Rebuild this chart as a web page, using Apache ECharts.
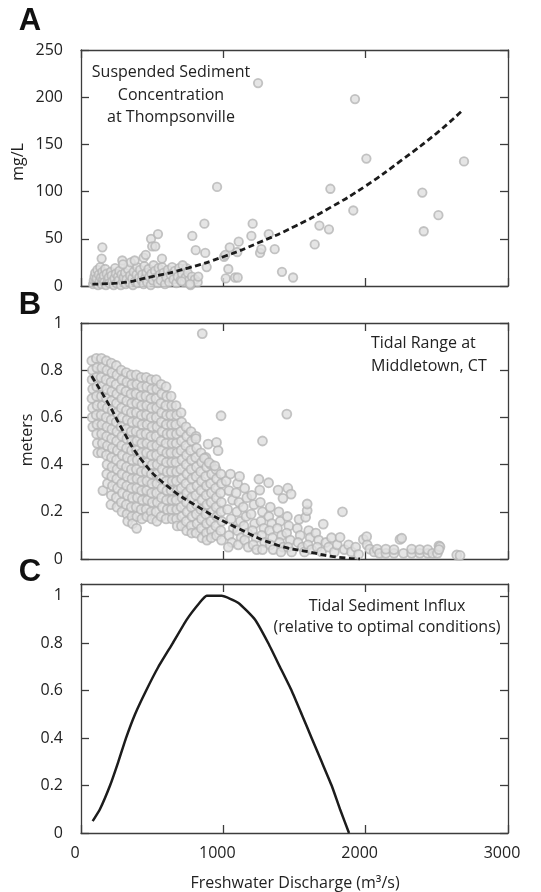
<!DOCTYPE html>
<html>
<head>
<meta charset="utf-8">
<script src="https://cdn.jsdelivr.net/npm/echarts@6/dist/echarts.min.js"></script>
<style>
  html, body { margin: 0; padding: 0; background: #fff; }
  #chart { width: 541px; height: 892px; }
</style>
</head>
<body>
<div id="chart"></div>
<script>
// shared x axis (freshwater discharge, m3/s)
const dischargeTicks = [0, 1000, 2000, 3000]

// panel A: suspended sediment concentration (mg/L) at Thompsonville
const sedimentPoints = [
  [85, 2], [90, 6], [95, 10], [100, 14], [105, 3], [110, 8], [115, 17], [120, 1], [125, 12], [130, 5],
  [135, 20], [140, 9], [145, 2], [150, 15], [155, 7], [160, 11], [165, 4], [170, 18], [175, 1], [180, 13],
  [190, 6], [195, 9], [200, 3], [210, 15], [215, 11], [220, 5], [230, 1], [235, 8], [240, 19], [245, 13],
  [250, 3], [260, 10], [265, 6], [270, 16], [280, 1], [285, 12], [295, 5], [300, 9], [310, 14], [315, 2],
  [320, 7], [330, 18], [340, 4], [345, 11], [350, 25], [360, 8], [365, 1], [370, 15], [380, 5], [390, 12],
  [395, 20], [400, 3], [410, 9], [415, 17], [425, 6], [430, 12], [440, 2], [445, 21], [450, 8], [460, 14],
  [465, 4], [475, 18], [480, 10], [490, 1], [495, 13], [505, 6], [510, 22], [520, 16], [530, 9], [540, 3],
  [545, 19], [555, 12], [560, 6], [570, 20], [580, 14], [590, 2], [600, 9], [610, 17], [620, 4], [630, 12],
  [640, 20], [650, 7], [660, 16], [670, 3], [680, 10], [690, 19], [700, 6], [710, 13], [725, 4], [735, 9],
  [740, 19], [750, 14], [760, 6], [770, 1], [780, 10], [800, 7], [820, 4],
  [150, 41], [145, 29], [290, 27], [295, 23], [377, 27], [440, 30], [455, 33], [492, 50], [500, 42], [522, 42],
  [541, 55], [569, 29], [714, 22], [707, 5], [766, 2], [782, 53], [806, 38], [824, 10], [867, 66], [873, 35],
  [883, 20], [956, 105], [1005, 31], [1014, 33], [1017, 8], [1035, 18], [1045, 41], [1082, 9], [1098, 36], [1101, 9],
  [1108, 47], [1197, 53], [1206, 66], [1244, 215], [1258, 35], [1267, 39], [1319, 55], [1361, 39], [1412, 15], [1490, 9],
  [1642, 44], [1675, 64], [1742, 60], [1752, 103], [1913, 80], [1925, 198], [2005, 135], [2398, 99], [2408, 58], [2511, 75],
  [2691, 132]
]
const sedimentFit = [
  [80, 2], [250, 3], [500, 10], [750, 19], [1000, 31], [1250, 46], [1500, 63],
  [1750, 83], [2000, 106], [2250, 133], [2500, 162], [2680, 186]
]

// panel B: tidal range (meters) at Middletown, CT
const tidalRangePoints = [
  [76, .84], [80, .80], [78, .76], [82, .72], [77, .68], [81, .64], [79, .60], [83, .56],
  [108, .85], [112, .81], [106, .77], [111, .73], [109, .69], [113, .65], [107, .61], [112, .57], [110, .53], [114, .49], [118, .45],
  [143, .85], [147, .81], [141, .77], [146, .73], [144, .69], [149, .65], [142, .61], [147, .57], [145, .53], [150, .49], [144, .45], [154, .29],
  [178, .84], [182, .80], [176, .76], [181, .72], [179, .68], [184, .64], [177, .60], [182, .56], [180, .52], [185, .48], [179, .44], [183, .40], [181, .36], [186, .32],
  [213, .83], [217, .79], [211, .75], [216, .71], [214, .67], [219, .63], [212, .59], [217, .55], [215, .51], [220, .47], [214, .43], [218, .39], [216, .35], [221, .31], [213, .27], [210, .23],
  [248, .82], [252, .78], [246, .74], [251, .70], [249, .66], [254, .62], [247, .58], [252, .54], [250, .50], [255, .46], [249, .42], [253, .38], [251, .34], [256, .30], [248, .26], [253, .22],
  [283, .80], [287, .76], [281, .72], [286, .68], [284, .64], [289, .60], [282, .56], [287, .52], [285, .48], [290, .44], [284, .40], [288, .36], [286, .32], [291, .28], [283, .24], [288, .20],
  [318, .79], [322, .75], [316, .71], [321, .67], [319, .63], [324, .59], [317, .55], [322, .51], [320, .47], [325, .43], [319, .39], [323, .35], [321, .31], [326, .27], [318, .23], [323, .19], [328, .16],
  [353, .78], [357, .74], [351, .70], [356, .66], [354, .62], [359, .58], [352, .54], [357, .50], [355, .46], [360, .42], [354, .38], [358, .34], [356, .30], [361, .26], [353, .22], [358, .18], [362, .15],
  [388, .78], [392, .74], [386, .70], [391, .66], [389, .62], [394, .58], [387, .54], [392, .50], [390, .46], [395, .42], [389, .38], [393, .34], [391, .30], [396, .26], [388, .22], [393, .18], [391, .13],
  [423, .77], [427, .73], [421, .69], [426, .65], [424, .61], [429, .57], [422, .53], [427, .49], [425, .45], [430, .41], [424, .37], [428, .33], [426, .29], [431, .25], [423, .21], [428, .17],
  [458, .77], [462, .73], [456, .69], [461, .65], [459, .61], [464, .57], [457, .53], [462, .49], [460, .45], [465, .41], [459, .37], [463, .33], [461, .29], [466, .25], [458, .21], [463, .18],
  [493, .76], [497, .72], [491, .68], [496, .64], [494, .60], [499, .56], [492, .52], [497, .48], [495, .44], [500, .40], [494, .36], [498, .32], [496, .28], [501, .24], [493, .20], [498, .17],
  [528, .76], [532, .72], [526, .68], [531, .64], [529, .60], [534, .56], [527, .52], [532, .48], [530, .44], [535, .40], [529, .36], [533, .32], [531, .28], [536, .24], [528, .20], [533, .16],
  [563, .74], [567, .70], [561, .66], [566, .62], [564, .58], [569, .54], [562, .50], [567, .46], [565, .42], [570, .38], [564, .34], [568, .30], [566, .26], [571, .22], [563, .18],
  [598, .73], [602, .69], [596, .65], [601, .61], [599, .57], [604, .53], [597, .49], [602, .45], [600, .41], [605, .37], [599, .33], [603, .29], [601, .25], [606, .21], [598, .17],
  [633, .69], [637, .65], [631, .61], [636, .57], [634, .53], [639, .49], [632, .45], [637, .41], [635, .37], [640, .33], [634, .29], [638, .25], [636, .21], [641, .17],
  [668, .65], [672, .61], [666, .57], [671, .53], [669, .49], [674, .45], [667, .41], [672, .37], [670, .33], [675, .29], [669, .25], [673, .21], [671, .17], [676, .14],
  [703, .62], [707, .58], [701, .54], [706, .50], [704, .46], [709, .42], [702, .38], [707, .34], [705, .30], [710, .26], [704, .22], [708, .18], [706, .14],
  [738, .56], [742, .52], [736, .48], [741, .44], [739, .40], [744, .36], [737, .32], [742, .28], [740, .24], [745, .20], [739, .16], [743, .12],
  [773, .54], [777, .50], [771, .46], [776, .42], [774, .38], [779, .34], [772, .30], [777, .26], [775, .22], [780, .18], [774, .14], [778, .11],
  [808, .52], [812, .47], [806, .43], [811, .39], [809, .35], [814, .31], [807, .27], [812, .23], [810, .19], [815, .15], [809, .11],
  [843, .45], [847, .41], [841, .37], [846, .33], [844, .29], [849, .25], [842, .21], [847, .17], [845, .13], [850, .09],
  [878, .43], [882, .39], [876, .35], [881, .31], [879, .27], [884, .23], [877, .19], [882, .15], [880, .11], [885, .08],
  [913, .40], [917, .36], [911, .32], [916, .28], [914, .24], [919, .20], [912, .16], [917, .12], [915, .09],
  [948, .38], [952, .34], [946, .30], [951, .26], [949, .22], [954, .18], [947, .14], [952, .10],
  [983, .36], [987, .32], [981, .28], [986, .24], [984, .20], [989, .16], [982, .12], [987, .08],
  [852, .955], [984, .607], [1446, .614], [1275, .50], [893, .487], [952, .494], [963, .459], [807, .51], [866, .427], [900, .408], [940, .395],
  [1020, .33], [1050, .36], [1040, .29], [1065, .25], [1030, .21], [1055, .17], [1070, .13], [1040, .10], [1060, .07], [1035, .05],
  [1100, .32], [1114, .35], [1090, .28], [1110, .24], [1095, .20], [1120, .16], [1100, .12], [1125, .09], [1105, .06],
  [1150, .30], [1165, .26], [1140, .22], [1160, .18], [1145, .14], [1170, .11], [1150, .08], [1175, .05],
  [1200, .27], [1215, .23], [1195, .19], [1220, .15], [1205, .12], [1230, .09], [1210, .06], [1235, .04],
  [1250, .338], [1256, .292], [1318, .323], [1260, .24], [1275, .20], [1265, .16], [1285, .13], [1270, .10], [1290, .07], [1275, .04],
  [1330, .22], [1320, .18], [1340, .15], [1325, .12], [1345, .09], [1330, .06], [1350, .04],
  [1385, .292], [1453, .30], [1476, .275], [1419, .257], [1390, .20], [1400, .16], [1380, .13], [1410, .10], [1395, .07], [1420, .05], [1405, .03],
  [1450, .18], [1460, .14], [1445, .11], [1470, .08], [1455, .05], [1480, .03],
  [1532, .168], [1578, .177], [1589, .205], [1589, .233], [1520, .13], [1540, .10], [1525, .07], [1555, .05], [1570, .03],
  [1600, .12], [1610, .09], [1595, .06], [1620, .04], [1650, .11], [1670, .08], [1660, .05], [1690, .03], [1702, .148],
  [1720, .07], [1740, .05], [1760, .09], [1780, .03], [1800, .06], [1837, .20], [1820, .092], [1850, .04], [1880, .06],
  [1900, .03], [1930, .05], [1950, .02], [1984, .083], [2007, .095], [2010, .06], [2029, .042], [2060, .03], [2080, .042],
  [2097, .024], [2142, .024], [2142, .042], [2199, .024], [2199, .04], [2241, .083], [2253, .088], [2266, .024], [2323, .024],
  [2323, .042], [2380, .024], [2380, .04], [2436, .024], [2436, .04], [2470, .024], [2504, .024], [2515, .056], [2522, .052],
  [2515, .04], [2640, .017], [2663, .015]
]
const tidalRangeFit = [
  [75, .775], [200, .65], [289, .55], [425, .42], [605, .31], [854, .21], [1103, .13],
  [1374, .06], [1600, .03], [1773, .01], [1960, 0]
]

// panel C: tidal sediment influx relative to optimal conditions
const influxCurve = [
  [82, .05], [133, .1], [204, .2], [262, .3], [316, .4], [379, .5], [457, .6], [543, .7], [644, .8],
  [743, .9], [832, .97], [883, 1], [988, 1], [1106, .97], [1222, .9], [1316, .8], [1398, .7],
  [1480, .6], [1551, .5], [1621, .4], [1691, .3], [1761, .2], [1820, .1], [1883, 0]
]
const influxTicks = [0, 0.2, 0.4, 0.6, 0.8, 1]

const FONT = '"Open Sans", "Noto Sans", sans-serif'
const AXIS_COLOR = "#3c3c3c"
const TEXT_COLOR = "#222"

const grids = [
  { left: 81, right: 33, top: 50, height: 236 },
  { left: 81, right: 33, top: 323, height: 236 },
  { left: 81, right: 33, top: 584, height: 249 }
]

function frameLine() {
  return { show: true, onZero: false, lineStyle: { color: AXIS_COLOR, width: 1.3 } }
}

function frameTick(values) {
  const tick = { show: true, inside: true, length: 8, lineStyle: { color: AXIS_COLOR, width: 1.3 } }
  if (values) tick.customValues = values
  return tick
}

function xAxisFor(gridIndex, position, showLabels) {
  return {
    type: "value", gridIndex, position, min: 0, max: 3000, interval: 1000,
    axisLine: frameLine(),
    axisTick: frameTick(),
    splitLine: { show: false },
    axisLabel: {
      show: showLabels, margin: 12, fontFamily: FONT, fontSize: 16, color: TEXT_COLOR,
      padding: [0, 12, 0, 0],
      customValues: dischargeTicks,
      formatter: (v) => String(v)
    }
  }
}

function yAxisFor(gridIndex, position, range, showLabels) {
  return {
    type: "value", gridIndex, position, min: range.min, max: range.max, interval: range.interval,
    axisLine: frameLine(),
    axisTick: frameTick(range.ticks),
    splitLine: { show: false },
    axisLabel: {
      show: showLabels, margin: 18, fontFamily: FONT, fontSize: 16, color: TEXT_COLOR,
      customValues: range.ticks,
      formatter: (v) => String(v)
    }
  }
}

const ranges = [
  { min: 0, max: 250, interval: 50 },
  { min: 0, max: 1, interval: 0.2 },
  { min: 0, max: 1.05, interval: 0.2, ticks: influxTicks }
]

const xAxes = []
const yAxes = []
grids.forEach((grid, i) => {
  xAxes.push(xAxisFor(i, "bottom", i === 2))
  xAxes.push(xAxisFor(i, "top", false))
  yAxes.push(yAxisFor(i, "left", ranges[i], true))
  yAxes.push(yAxisFor(i, "right", ranges[i], false))
})

const pointStyle = { color: "#dedede", borderColor: "#b5b5b5", borderWidth: 1.8 }
const dashStyle = { color: "#1c1c1c", width: 2.8, type: [6, 3.5] }

function label(text, x, y, opts = {}) {
  return {
    type: "text", x, y, rotation: opts.rotation || 0, z: 100,
    style: {
      text, x: 0, y: 0,
      font: opts.font || `16px ${FONT}`,
      fill: opts.color || TEXT_COLOR,
      align: opts.align || "center", textAlign: opts.align || "center",
      verticalAlign: "middle", textVerticalAlign: "middle"
    }
  }
}

const letterFont = 'bold 31px "Liberation Sans", Arial, sans-serif'

const chart = echarts.init(document.getElementById("chart"), null, { renderer: "canvas" })
chart.setOption({
  animation: false,
  backgroundColor: "#fff",
  grid: grids,
  xAxis: xAxes,
  yAxis: yAxes,
  series: [
    { type: "scatter", xAxisIndex: 0, yAxisIndex: 0, data: sedimentPoints, symbolSize: 8.5, itemStyle: pointStyle },
    { type: "line", xAxisIndex: 0, yAxisIndex: 0, data: sedimentFit, smooth: true, showSymbol: false, lineStyle: dashStyle, z: 5 },
    { type: "scatter", xAxisIndex: 2, yAxisIndex: 2, data: tidalRangePoints, symbolSize: 9, itemStyle: pointStyle },
    { type: "line", xAxisIndex: 2, yAxisIndex: 2, data: tidalRangeFit, smooth: true, showSymbol: false, lineStyle: dashStyle, z: 5 },
    { type: "line", xAxisIndex: 4, yAxisIndex: 4, data: influxCurve, smooth: 0.15, showSymbol: false, lineStyle: { color: "#1c1c1c", width: 2.5 }, z: 5 }
  ],
  graphic: [
    label("A", 30, 21, { font: letterFont, color: "#111" }),
    label("B", 30, 305, { font: letterFont, color: "#111" }),
    label("C", 30, 572, { font: letterFont, color: "#111" }),
    label("Suspended Sediment", 171, 72),
    label("Concentration", 171, 95),
    label("at Thompsonville", 171, 117),
    label("Tidal Range at", 371, 343, { align: "left" }),
    label("Middletown, CT", 371, 366, { align: "left" }),
    label("Tidal Sediment Influx", 387, 606),
    label("(relative to optimal conditions)", 387, 627),
    label("mg/L", 18, 162, { rotation: Math.PI / 2 }),
    label("meters", 27, 440, { rotation: Math.PI / 2 }),
    label("Freshwater Discharge (m\u00b3/s)", 295, 883)
  ]
})
</script>
</body>
</html>
